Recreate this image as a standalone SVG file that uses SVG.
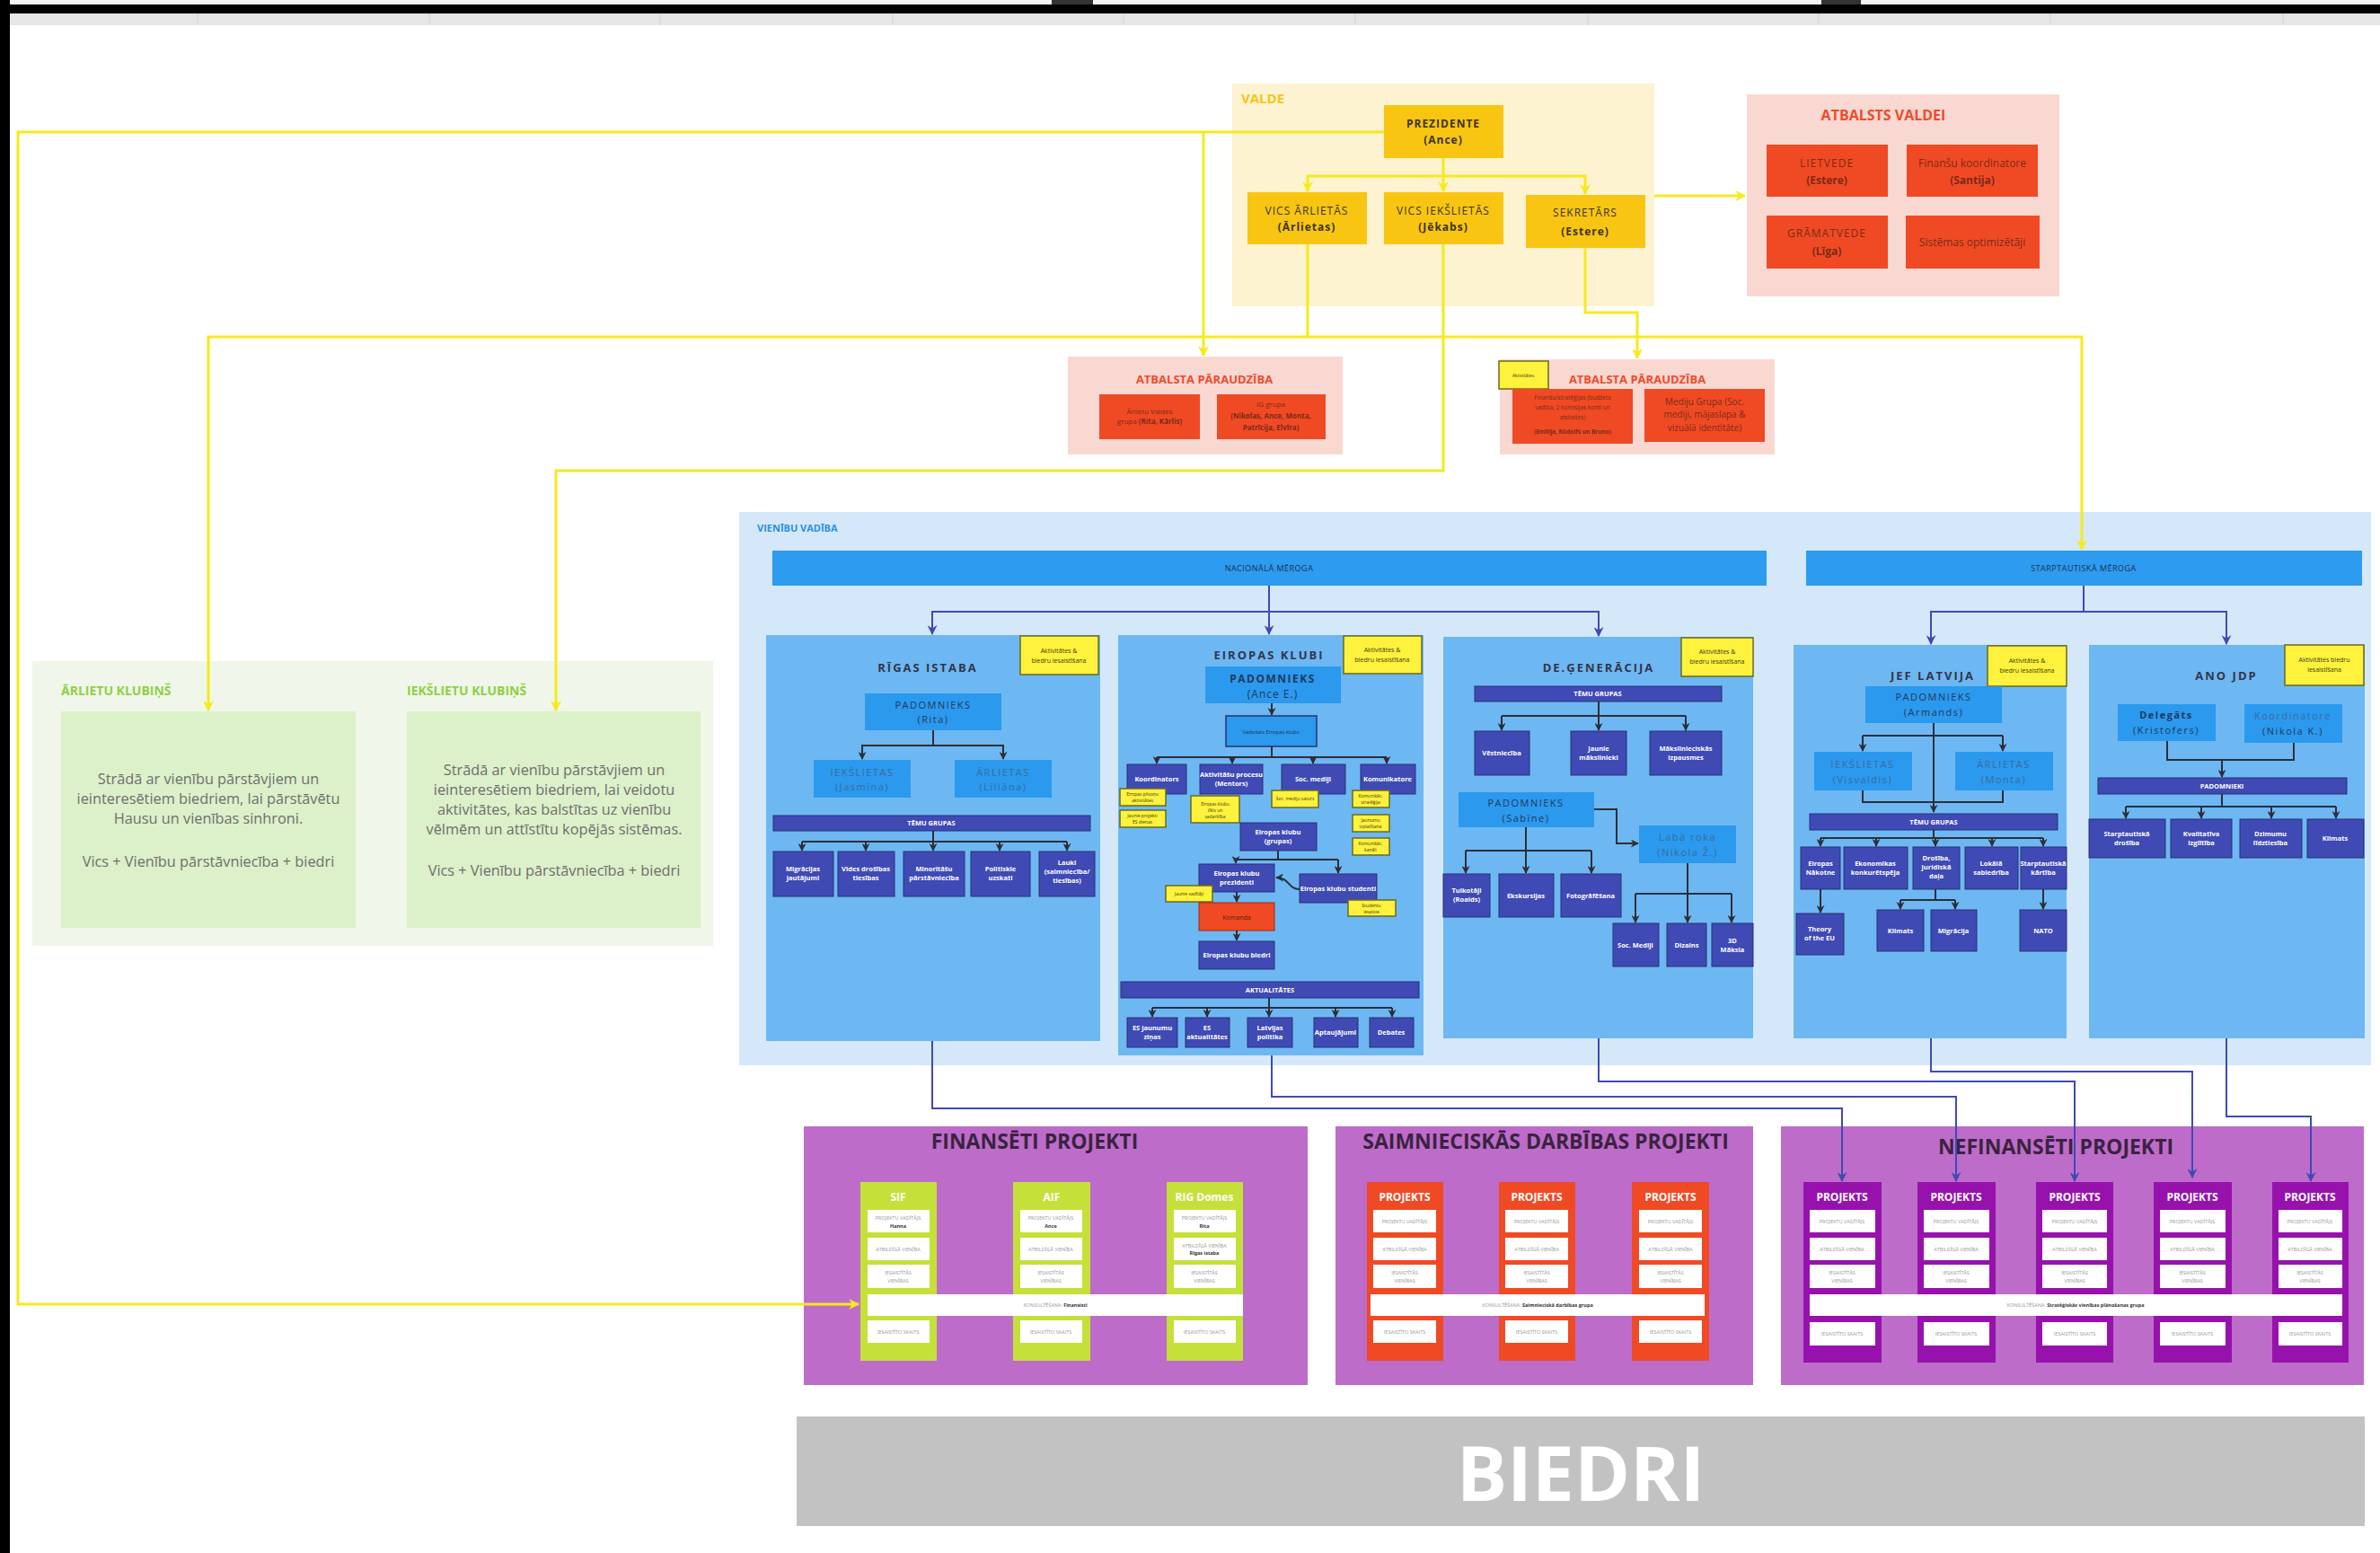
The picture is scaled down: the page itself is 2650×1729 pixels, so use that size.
<svg xmlns="http://www.w3.org/2000/svg" width="2650" height="1729" viewBox="0 0 2650 1729">
<style>
text{font-family:"Open Sans","Noto Sans","Liberation Sans",sans-serif}
.c{text-anchor:middle}
.yl{fill:none;stroke:#f6ea1c;stroke-width:3}
.dl{fill:none;stroke:#2d2d3a;stroke-width:2}
.il{fill:none;stroke:#3f4ab5;stroke-width:2}
.vb{fill:#f8c512}
.vt{font-size:12px;fill:#3b3412;letter-spacing:1px}
.rb{fill:#f04a24}
.rt{font-size:12px;fill:#7c2a17}
.rs{font-size:8px;fill:#7c2a17}
.ub{fill:#6db8f2}
.pb{fill:#2b99ee}
.pt{font-size:11px;fill:#213a5a;letter-spacing:1.5px}
.pl{font-size:11px;fill:#3d6a9a;letter-spacing:1.5px}
.ib{fill:#3f4ab5;stroke:#2a3170;stroke-width:1}
.it{font-size:7.5px;fill:#fff;font-weight:bold}
.st{fill:#fff23c;stroke:#6a6a20;stroke-width:1.5}
.stt{font-size:7px;fill:#3a3a10}
.sts{font-size:5px;fill:#3a3a10}
.ut{font-size:13px;font-weight:bold;fill:#34344a;letter-spacing:2px}
.wc{fill:#fff}
.ct{font-size:5.5px;fill:#9a9a9a}
.cb{font-size:5.5px;fill:#333;font-weight:bold}
.pj{font-size:12px;font-weight:bold;fill:#fff}
.ptitle{font-size:23px;font-weight:bold;fill:#3a2340}
.gt{font-size:14px;font-weight:bold;fill:#8fd043}
.gx{font-size:16.3px;fill:#6e6e6e}
</style>
<defs>
<marker id="ay" viewBox="0 0 10 10" refX="9" refY="5" markerWidth="12" markerHeight="12" markerUnits="userSpaceOnUse" orient="auto"><path d="M0,0 L10,5 L0,10 L3,5 z" fill="#f6ea1c"/></marker>
<marker id="ad" viewBox="0 0 10 10" refX="9" refY="5" markerWidth="9" markerHeight="9" markerUnits="userSpaceOnUse" orient="auto"><path d="M0,0 L10,5 L0,10 L3,5 z" fill="#2d2d3a"/></marker>
<marker id="ai" viewBox="0 0 10 10" refX="9" refY="5" markerWidth="11" markerHeight="11" markerUnits="userSpaceOnUse" orient="auto"><path d="M0,0 L10,5 L0,10 L3,5 z" fill="#3f4ab5"/></marker>
</defs>

<g id="chrome">
<rect x="0" y="0" width="2650" height="6" fill="#f3f3f3"/>
<rect x="1171" y="0" width="46" height="6" fill="#333"/>
<rect x="2028" y="0" width="44" height="6" fill="#333"/>
<rect x="0" y="5" width="2650" height="10" fill="#000"/>
<rect x="0" y="15" width="2650" height="13" fill="#e6e6e6"/>
<g stroke="#d2d2d2" stroke-width="1">
<line x1="220" y1="15" x2="220" y2="28"/><line x1="478" y1="15" x2="478" y2="28"/><line x1="735" y1="15" x2="735" y2="28"/><line x1="994" y1="15" x2="994" y2="28"/><line x1="1251" y1="15" x2="1251" y2="28"/><line x1="1509" y1="15" x2="1509" y2="28"/><line x1="1768" y1="15" x2="1768" y2="28"/><line x1="2025" y1="15" x2="2025" y2="28"/><line x1="2283" y1="15" x2="2283" y2="28"/><line x1="2542" y1="15" x2="2542" y2="28"/>
</g>
<rect x="0" y="0" width="11" height="1729" fill="#000"/>
</g>

<g id="valde">
<rect x="1372" y="93" width="470" height="248" fill="#fdf3d0"/>
<text x="1382" y="115" font-size="15" font-weight="bold" fill="#f5c518">VALDE</text>
</g>
<g id="prezidente">
<rect class="vb" x="1541" y="117" width="133" height="59"/>
<text class="c vt" font-weight="bold" x="1607" y="142">PREZIDENTE</text>
<text class="c vt" font-weight="bold" x="1607" y="160">(Ance)</text>
</g>
<g id="vics-arlietas">
<rect class="vb" x="1389" y="214" width="133" height="58"/>
<text class="c vt" x="1455" y="239">VICS ĀRLIETĀS</text>
<text class="c vt" font-weight="bold" x="1455" y="257">(Ārlietas)</text>
</g>
<g id="vics-ieksl">
<rect class="vb" x="1541" y="214" width="133" height="58"/>
<text class="c vt" x="1607" y="239">VICS IEKŠLIETĀS</text>
<text class="c vt" font-weight="bold" x="1607" y="257">(Jēkabs)</text>
</g>
<g id="sekretars">
<rect class="vb" x="1699" y="217" width="133" height="59"/>
<text class="c vt" x="1765" y="241">SEKRETĀRS</text>
<text class="c vt" font-weight="bold" x="1765" y="262">(Estere)</text>
</g>

<g id="atbalsts-valdei">
<rect x="1945" y="105" width="348" height="225" fill="#fad8d2"/>
<text class="c" x="2097" y="134" font-size="16" font-weight="bold" fill="#ef4b2b">ATBALSTS VALDEI</text>
<rect class="rb" x="1967" y="161" width="135" height="58"/>
<text class="c rt" x="2034" y="186" letter-spacing="1">LIETVEDE</text>
<text class="c rt" x="2034" y="205" font-weight="bold">(Estere)</text>
<rect class="rb" x="2123" y="161" width="146" height="58"/>
<text class="c rt" x="2196" y="186">Finanšu koordinatore</text>
<text class="c rt" x="2196" y="205" font-weight="bold">(Santija)</text>
<rect class="rb" x="1967" y="240" width="135" height="59"/>
<text class="c rt" x="2034" y="264" letter-spacing="1">GRĀMATVEDE</text>
<text class="c rt" x="2034" y="284" font-weight="bold">(Līga)</text>
<rect class="rb" x="2122" y="240" width="149" height="59"/>
<text class="c rt" x="2196" y="274">Sistēmas optimizētāji</text>
</g>

<g id="atbalsta-parraudziba-1">
<rect x="1189" y="397" width="306" height="109" fill="#fad8d2"/>
<text class="c" x="1341" y="427" font-size="13" font-weight="bold" fill="#ef4b2b">ATBALSTA PĀRAUDZĪBA</text>
<rect class="rb" x="1224" y="439" width="112" height="50"/>
<text class="c rs" x="1280" y="461">Ārlietu Valdes</text>
<text class="c rs" x="1280" y="472">grupa <tspan font-weight="bold">(Rita, Kārlis)</tspan></text>
<rect class="rb" x="1355" y="439" width="121" height="50"/>
<text class="c rs" x="1415" y="453">IG grupa</text>
<text class="c rs" x="1415" y="466" font-weight="bold">(Nikolas, Ance, Monta,</text>
<text class="c rs" x="1415" y="479" font-weight="bold">Patrīcija, Elvīra)</text>
</g>
<g id="atbalsta-parraudziba-2">
<rect x="1670" y="400" width="306" height="106" fill="#fad8d2"/>
<rect class="st" x="1669" y="402" width="55" height="31"/>
<text class="c sts" x="1696" y="420">Aktivitātes</text>
<text class="c" x="1823" y="427" font-size="13" font-weight="bold" fill="#ef4b2b">ATBALSTA PĀRAUDZĪBA</text>
<rect class="rb" x="1684" y="433" width="134" height="61"/>
<text class="c" x="1751" y="445" font-size="6.5" fill="#7c2a17">Finanšu/stratēģijas (budžeta</text>
<text class="c" x="1751" y="456" font-size="6.5" fill="#7c2a17">vadība, 2 komisijas konti un</text>
<text class="c" x="1751" y="467" font-size="6.5" fill="#7c2a17">atskaites)</text>
<text class="c" x="1751" y="483" font-size="6.5" fill="#7c2a17" font-weight="bold">(Emīlija, Rūdolfs un Bruno)</text>
<rect class="rb" x="1831" y="433" width="134" height="59"/>
<text class="c" x="1898" y="451" font-size="10" fill="#7c2a17">Mediju Grupa (Soc.</text>
<text class="c" x="1898" y="465" font-size="10" fill="#7c2a17">mediji, mājaslapa &amp;</text>
<text class="c" x="1898" y="480" font-size="10" fill="#7c2a17">vizuālā identitāte)</text>
</g>

<g id="klubini">
<rect x="36" y="736" width="758" height="317" fill="#f0f7ea"/>
</g>
<g id="arlietu-klubins">
<text class="gt" x="68" y="774">ĀRLIETU KLUBIŅŠ</text>
<rect x="68" y="792" width="328" height="241" fill="#dcf0c9"/>
<text class="c gx" x="232" y="873">Strādā ar vienību pārstāvjiem un</text>
<text class="c gx" x="232" y="895">ieinteresētiem biedriem, lai pārstāvētu</text>
<text class="c gx" x="232" y="917">Hausu un vienības sinhroni.</text>
<text class="c gx" x="232" y="965">Vics + Vienību pārstāvniecība + biedri</text>
</g>
<g id="ieksl-klubins">
<text class="gt" x="453" y="774">IEKŠLIETU KLUBIŅŠ</text>
<rect x="453" y="792" width="327" height="241" fill="#dcf0c9"/>
<text class="c gx" x="617" y="863">Strādā ar vienību pārstāvjiem un</text>
<text class="c gx" x="617" y="885">ieinteresētiem biedriem, lai veidotu</text>
<text class="c gx" x="617" y="907">aktivitātes, kas balstītas uz vienību</text>
<text class="c gx" x="617" y="929">vēlmēm un attīstītu kopējās sistēmas.</text>
<text class="c gx" x="617" y="975">Vics + Vienību pārstāvniecība + biedri</text>
</g>

<g id="vienibu-vadiba">
<rect x="823" y="570" width="1817" height="616" fill="#d5e8f9"/>
<text x="843" y="592" font-size="11" font-weight="bold" fill="#2a8fe6">VIENĪBU VADĪBA</text>
</g>
<g id="nacionala">
<rect x="860" y="613" width="1107" height="39" fill="#2d9bf0"/>
<text class="c" x="1413" y="636" font-size="9" fill="#1e3050" letter-spacing="0.5">NACIONĀLĀ MĒROGA</text>
</g>
<g id="starptautiska">
<rect x="2011" y="613" width="619" height="39" fill="#2d9bf0"/>
<text class="c" x="2320" y="636" font-size="9" fill="#1e3050" letter-spacing="0.5">STARPTAUTISKĀ MĒROGA</text>
</g>

<g id="rigas-istaba">
<rect class="ub" x="853" y="707" width="372" height="452"/>
<rect class="st" x="1136" y="708" width="87" height="43"/>
<text class="c stt" x="1179" y="727">Aktivitātes &amp;</text>
<text class="c stt" x="1179" y="738">biedru iesaistīšana</text>
<text class="c ut" x="1033" y="748">RĪGAS ISTABA</text>
<rect class="pb" x="963" y="772" width="152" height="41"/>
<text class="c pt" x="1039" y="789">PADOMNIEKS</text>
<text class="c pt" x="1039" y="805">(Rita)</text>
<path class="dl" d="M1039,813 V830 M960,830 H1117" stroke-width="3"/>
<path class="dl" d="M960,829 V845" marker-end="url(#ad)" stroke-width="3"/>
<path class="dl" d="M1117,829 V845" marker-end="url(#ad)" stroke-width="3"/>
<rect class="pb" x="906" y="846" width="108" height="42"/>
<text class="c pl" x="960" y="864">IEKŠLIETAS</text>
<text class="c pl" x="960" y="880">(Jasmīna)</text>
<rect class="pb" x="1063" y="846" width="108" height="42"/>
<text class="c pl" x="1117" y="864">ĀRLIETAS</text>
<text class="c pl" x="1117" y="880">(Līliāna)</text>
<rect class="ib" x="861" y="908" width="353" height="17"/>
<text class="c it" x="1037" y="919">TĒMU GRUPAS</text>
<path class="dl" d="M1039,925 V937 M893,937 H1188"/>
<path class="dl" d="M893,937 V947" marker-end="url(#ad)"/>
<path class="dl" d="M964,937 V947" marker-end="url(#ad)"/>
<path class="dl" d="M1039,937 V947" marker-end="url(#ad)"/>
<path class="dl" d="M1113,937 V947" marker-end="url(#ad)"/>
<path class="dl" d="M1188,937 V947" marker-end="url(#ad)"/>
<rect class="ib" x="861" y="948" width="67" height="50"/>
<text class="c it" x="894" y="970">Migrācijas</text><text class="c it" x="894" y="980">jautājumi</text>
<rect class="ib" x="933" y="948" width="63" height="50"/>
<text class="c it" x="964" y="970">Vides drošības</text><text class="c it" x="964" y="980">tiesības</text>
<rect class="ib" x="1006" y="948" width="68" height="50"/>
<text class="c it" x="1040" y="970">Minoritāšu</text><text class="c it" x="1040" y="980">pārstāvniecība</text>
<rect class="ib" x="1081" y="948" width="66" height="50"/>
<text class="c it" x="1114" y="970">Politiskie</text><text class="c it" x="1114" y="980">uzskati</text>
<rect class="ib" x="1157" y="948" width="62" height="50"/>
<text class="c it" x="1188" y="963">Lauki</text><text class="c it" x="1188" y="973">(saimniecība/</text><text class="c it" x="1188" y="983">tiesības)</text>
</g>

<g id="eiropas-klubi">
<rect class="ub" x="1245" y="707" width="340" height="468"/>
<rect class="st" x="1496" y="708" width="87" height="42"/>
<text class="c stt" x="1539" y="726">Aktivitātes &amp;</text>
<text class="c stt" x="1539" y="737">biedru iesaistīšana</text>
<text class="c ut" x="1413" y="734">EIROPAS KLUBI</text>
<rect class="pb" x="1342" y="742" width="151" height="41"/>
<text class="c" x="1417" y="760" font-size="12" font-weight="bold" fill="#213a5a" letter-spacing="1.5">PADOMNIEKS</text>
<text class="c" x="1417" y="777" font-size="12" fill="#213a5a" letter-spacing="1">(Ance E.)</text>
<path class="dl" d="M1416,783 V796" marker-end="url(#ad)"/>
<rect x="1365" y="797" width="101" height="34" fill="#2b99ee" stroke="#2a3170" stroke-width="1.5"/>
<text class="c" x="1415" y="817" font-size="6" fill="#1e3050">Vadošais Eiropas klubs</text>
<path class="dl" d="M1416,831 V843 M1288,843 H1544"/>
<path class="dl" d="M1288,843 V850" marker-end="url(#ad)"/>
<path class="dl" d="M1372,843 V850" marker-end="url(#ad)"/>
<path class="dl" d="M1462,843 V850" marker-end="url(#ad)"/>
<path class="dl" d="M1544,843 V850" marker-end="url(#ad)"/>
<rect class="ib" x="1255" y="851" width="66" height="33"/>
<text class="c it" x="1288" y="870">Koordinators</text>
<rect class="ib" x="1336" y="851" width="70" height="33"/>
<text class="c it" x="1371" y="865">Aktivitāšu procesu</text><text class="c it" x="1371" y="875">(Mentors)</text>
<rect class="ib" x="1427" y="851" width="71" height="33"/>
<text class="c it" x="1462" y="870">Soc. mediji</text>
<rect class="ib" x="1515" y="851" width="61" height="33"/>
<text class="c it" x="1545" y="870">Komunikatore</text>
<rect class="st" x="1247" y="878" width="51" height="19"/>
<text class="c sts" x="1272" y="886">Eiropas pilsoņu</text><text class="c sts" x="1272" y="893">aktivitātes</text>
<rect class="st" x="1247" y="902" width="51" height="19"/>
<text class="c sts" x="1272" y="910">Jaunie projekti</text><text class="c sts" x="1272" y="917">ES dienas</text>
<rect class="st" x="1326" y="886" width="54" height="30"/>
<text class="c sts" x="1353" y="897">Eiropas klubu</text><text class="c sts" x="1353" y="904">tīkls un</text><text class="c sts" x="1353" y="911">sadarbība</text>
<rect class="st" x="1416" y="880" width="52" height="19"/>
<text class="c sts" x="1442" y="891">Soc. mediju saturs</text>
<rect class="st" x="1506" y="880" width="41" height="19"/>
<text class="c sts" x="1526" y="888">Komunikāc.</text><text class="c sts" x="1526" y="895">stratēģija</text>
<rect class="st" x="1506" y="907" width="41" height="19"/>
<text class="c sts" x="1526" y="915">Jaunumu</text><text class="c sts" x="1526" y="922">izplatīšana</text>
<rect class="st" x="1506" y="933" width="41" height="19"/>
<text class="c sts" x="1526" y="941">Komunikāc.</text><text class="c sts" x="1526" y="948">kanāli</text>
<rect class="ib" x="1381" y="916" width="85" height="31"/>
<text class="c it" x="1423" y="929">Eiropas klubu</text><text class="c it" x="1423" y="939">(grupas)</text>
<path class="dl" d="M1423,947 V957 M1376,957 H1490"/>
<path class="dl" d="M1376,957 V961" marker-end="url(#ad)"/>
<path class="dl" d="M1490,957 V972" marker-end="url(#ad)"/>
<rect class="ib" x="1335" y="962" width="84" height="31"/>
<text class="c it" x="1377" y="975">Eiropas klubu</text><text class="c it" x="1377" y="985">prezidenti</text>
<rect class="ib" x="1447" y="973" width="86" height="32"/>
<text class="c it" x="1490" y="992">Eiropas klubu studenti</text>
<path class="dl" d="M1447,990 C1434,990 1436,977 1421,977" marker-end="url(#ad)" stroke-width="1.5"/>
<rect class="st" x="1298" y="986" width="52" height="18"/>
<text class="c sts" x="1324" y="997">Jaunie vadītāji</text>
<rect class="st" x="1501" y="1002" width="53" height="18"/>
<text class="c sts" x="1527" y="1010">Studentu</text><text class="c sts" x="1527" y="1017">iesaiste</text>
<path class="dl" d="M1377,993 V1004" marker-end="url(#ad)"/>
<rect x="1335" y="1005" width="84" height="31" fill="#f04a24" stroke="#9a2a14" stroke-width="1"/>
<text class="c" x="1377" y="1024" font-size="7" fill="#5a1a0a">Komanda</text>
<path class="dl" d="M1377,1036 V1047" marker-end="url(#ad)"/>
<rect class="ib" x="1335" y="1048" width="84" height="31"/>
<text class="c it" x="1377" y="1066">Eiropas klubu biedri</text>
<rect class="ib" x="1248" y="1093" width="332" height="18"/>
<text class="c it" x="1414" y="1105">AKTUALITĀTES</text>
<path class="dl" d="M1413,1111 V1122 M1283,1122 H1550"/>
<path class="dl" d="M1283,1122 V1132" marker-end="url(#ad)"/>
<path class="dl" d="M1344,1122 V1132" marker-end="url(#ad)"/>
<path class="dl" d="M1413,1122 V1132" marker-end="url(#ad)"/>
<path class="dl" d="M1487,1122 V1132" marker-end="url(#ad)"/>
<path class="dl" d="M1550,1122 V1132" marker-end="url(#ad)"/>
<rect class="ib" x="1255" y="1133" width="56" height="33"/>
<text class="c it" x="1283" y="1147">ES jaunumu</text><text class="c it" x="1283" y="1157">ziņas</text>
<rect class="ib" x="1320" y="1133" width="49" height="33"/>
<text class="c it" x="1344" y="1147">ES</text><text class="c it" x="1344" y="1157">aktualitātes</text>
<rect class="ib" x="1389" y="1133" width="50" height="33"/>
<text class="c it" x="1414" y="1147">Latvijas</text><text class="c it" x="1414" y="1157">politika</text>
<rect class="ib" x="1463" y="1133" width="49" height="33"/>
<text class="c it" x="1487" y="1152">Aptaujājumi</text>
<rect class="ib" x="1525" y="1133" width="49" height="33"/>
<text class="c it" x="1549" y="1152">Debates</text>
</g>

<g id="de-generacija">
<rect class="ub" x="1607" y="709" width="345" height="447"/>
<rect class="st" x="1872" y="710" width="80" height="43"/>
<text class="c stt" x="1912" y="728">Aktivitātes &amp;</text>
<text class="c stt" x="1912" y="739">biedru iesaistīšana</text>
<text class="c ut" x="1780" y="748">DE.ĢENERĀCIJA</text>
<rect class="ib" x="1642" y="764" width="275" height="17"/>
<text class="c it" x="1779" y="775">TĒMU GRUPAS</text>
<path class="dl" d="M1780,781 V797 M1672,797 H1877"/>
<path class="dl" d="M1672,797 V813" marker-end="url(#ad)"/>
<path class="dl" d="M1780,797 V813" marker-end="url(#ad)"/>
<path class="dl" d="M1877,797 V813" marker-end="url(#ad)"/>
<rect class="ib" x="1642" y="814" width="61" height="49"/>
<text class="c it" x="1672" y="841">Vēstniecība</text>
<rect class="ib" x="1749" y="814" width="62" height="49"/>
<text class="c it" x="1780" y="836">Jaunie</text><text class="c it" x="1780" y="846">mākslinieki</text>
<rect class="ib" x="1837" y="814" width="80" height="49"/>
<text class="c it" x="1877" y="836">Mākslinieciskās</text><text class="c it" x="1877" y="846">izpausmes</text>
<rect class="pb" x="1624" y="882" width="151" height="39"/>
<text class="c pt" x="1699" y="898">PADOMNIEKS</text>
<text class="c pt" x="1699" y="915">(Sabīne)</text>
<path class="dl" d="M1775,901 H1800 V939 H1824" marker-end="url(#ad)"/>
<rect class="pb" x="1825" y="919" width="108" height="42"/>
<text class="c pl" x="1879" y="936">Labā roka</text>
<text class="c pl" x="1879" y="953">(Nikola Ž.)</text>
<path class="dl" d="M1699,921 V947 M1632,947 H1772"/>
<path class="dl" d="M1632,947 V972" marker-end="url(#ad)"/>
<path class="dl" d="M1699,947 V972" marker-end="url(#ad)"/>
<path class="dl" d="M1772,947 V972" marker-end="url(#ad)"/>
<rect class="ib" x="1607" y="973" width="52" height="48"/>
<text class="c it" x="1633" y="994">Tulkotāji</text><text class="c it" x="1633" y="1004">(Roalds)</text>
<rect class="ib" x="1669" y="973" width="61" height="48"/>
<text class="c it" x="1699" y="1000">Ekskursijas</text>
<rect class="ib" x="1738" y="973" width="67" height="48"/>
<text class="c it" x="1771" y="1000">Fotogrāfēšana</text>
<path class="dl" d="M1879,961 V995 M1821,995 H1928"/>
<path class="dl" d="M1821,995 V1027" marker-end="url(#ad)"/>
<path class="dl" d="M1879,995 V1027" marker-end="url(#ad)"/>
<path class="dl" d="M1928,995 V1027" marker-end="url(#ad)"/>
<rect class="ib" x="1796" y="1028" width="51" height="48"/>
<text class="c it" x="1821" y="1055">Soc. Mediji</text>
<rect class="ib" x="1856" y="1028" width="44" height="48"/>
<text class="c it" x="1878" y="1055">Dizains</text>
<rect class="ib" x="1906" y="1028" width="46" height="48"/>
<text class="c it" x="1929" y="1050">3D</text><text class="c it" x="1929" y="1060">Māksla</text>
</g>

<g id="jef-latvija">
<rect class="ub" x="1997" y="718" width="304" height="438"/>
<rect class="st" x="2213" y="719" width="88" height="45"/>
<text class="c stt" x="2257" y="738">Aktivitātes &amp;</text>
<text class="c stt" x="2257" y="749">biedru iesaistīšana</text>
<text class="c ut" x="2152" y="757">JEF LATVIJA</text>
<rect class="pb" x="2077" y="764" width="152" height="41"/>
<text class="c pt" x="2153" y="780">PADOMNIEKS</text>
<text class="c pt" x="2153" y="797">(Armands)</text>
<path class="dl" d="M2153,805 V904" marker-end="url(#ad)"/>
<path class="dl" d="M2074,819 H2230"/>
<path class="dl" d="M2074,819 V836" marker-end="url(#ad)"/>
<path class="dl" d="M2230,819 V836" marker-end="url(#ad)"/>
<rect class="pb" x="2020" y="837" width="109" height="43"/>
<text class="c pl" x="2074" y="855">IEKŠLIETAS</text>
<text class="c pl" x="2074" y="872">(Visvaldis)</text>
<rect class="pb" x="2177" y="837" width="109" height="43"/>
<text class="c pl" x="2231" y="855">ĀRLIETAS</text>
<text class="c pl" x="2231" y="872">(Monta)</text>
<path class="dl" d="M2074,880 V893 H2230 V880"/>
<rect class="ib" x="2015" y="906" width="276" height="18"/>
<text class="c it" x="2153" y="918">TĒMU GRUPAS</text>
<path class="dl" d="M2153,924 V933 M2027,933 H2275"/>
<path class="dl" d="M2027,933 V942" marker-end="url(#ad)"/>
<path class="dl" d="M2089,933 V942" marker-end="url(#ad)"/>
<path class="dl" d="M2155,933 V942" marker-end="url(#ad)"/>
<path class="dl" d="M2218,933 V942" marker-end="url(#ad)"/>
<path class="dl" d="M2275,933 V942" marker-end="url(#ad)"/>
<rect class="ib" x="2005" y="943" width="44" height="47"/>
<text class="c it" x="2027" y="964">Eiropas</text><text class="c it" x="2027" y="974">Nākotne</text>
<rect class="ib" x="2053" y="943" width="71" height="47"/>
<text class="c it" x="2088" y="964">Ekonomikas</text><text class="c it" x="2088" y="974">konkurētspēja</text>
<rect class="ib" x="2130" y="943" width="52" height="47"/>
<text class="c it" x="2156" y="958">Drošība,</text><text class="c it" x="2156" y="968">juridiskā</text><text class="c it" x="2156" y="978">daļa</text>
<rect class="ib" x="2188" y="943" width="59" height="47"/>
<text class="c it" x="2217" y="964">Lokālā</text><text class="c it" x="2217" y="974">sabiedrība</text>
<rect class="ib" x="2250" y="943" width="51" height="47"/>
<text class="c it" x="2275" y="964">Starptautiskā</text><text class="c it" x="2275" y="974">kārtība</text>
<path class="dl" d="M2027,990 V1016" marker-end="url(#ad)"/>
<rect class="ib" x="2000" y="1017" width="53" height="46"/>
<text class="c it" x="2026" y="1037">Theory</text><text class="c it" x="2026" y="1047">of the EU</text>
<path class="dl" d="M2155,990 V1002 M2116,1002 H2177"/>
<path class="dl" d="M2116,1002 V1012" marker-end="url(#ad)"/>
<path class="dl" d="M2177,1002 V1012" marker-end="url(#ad)"/>
<rect class="ib" x="2090" y="1013" width="52" height="46"/>
<text class="c it" x="2116" y="1039">Klimats</text>
<rect class="ib" x="2150" y="1013" width="51" height="46"/>
<text class="c it" x="2175" y="1039">Migrācija</text>
<path class="dl" d="M2275,990 V1012" marker-end="url(#ad)"/>
<rect class="ib" x="2249" y="1013" width="52" height="46"/>
<text class="c it" x="2275" y="1039">NATO</text>
</g>

<g id="ano-jdp">
<rect class="ub" x="2326" y="718" width="307" height="438"/>
<rect class="st" x="2544" y="718" width="88" height="45"/>
<text class="c stt" x="2588" y="737">Aktivitātes biedru</text>
<text class="c stt" x="2588" y="748">iesaistīšana</text>
<text class="c ut" x="2479" y="757">ANO JDP</text>
<rect class="pb" x="2358" y="784" width="109" height="41"/>
<text class="c pt" x="2412" y="800" font-weight="bold">Delegāts</text>
<text class="c pt" x="2412" y="817">(Kristofers)</text>
<rect class="pb" x="2499" y="784" width="109" height="43"/>
<text class="c pl" x="2553" y="801">Koordinatore</text>
<text class="c pt" x="2553" y="818">(Nikola K.)</text>
<path class="dl" d="M2413,825 V846 H2554 V827"/>
<path class="dl" d="M2474,846 V865" marker-end="url(#ad)"/>
<rect class="ib" x="2336" y="866" width="277" height="18"/>
<text class="c it" x="2474" y="878">PADOMNIEKI</text>
<path class="dl" d="M2474,884 V898 M2367,898 H2601"/>
<path class="dl" d="M2367,898 V911" marker-end="url(#ad)"/>
<path class="dl" d="M2451,898 V911" marker-end="url(#ad)"/>
<path class="dl" d="M2529,898 V911" marker-end="url(#ad)"/>
<path class="dl" d="M2601,898 V911" marker-end="url(#ad)"/>
<rect class="ib" x="2326" y="912" width="85" height="43"/>
<text class="c it" x="2368" y="931">Starptautiskā</text><text class="c it" x="2368" y="941">drošība</text>
<rect class="ib" x="2417" y="912" width="68" height="43"/>
<text class="c it" x="2451" y="931">Kvalitatīva</text><text class="c it" x="2451" y="941">izglītība</text>
<rect class="ib" x="2494" y="912" width="69" height="43"/>
<text class="c it" x="2528" y="931">Dzimumu</text><text class="c it" x="2528" y="941">līdztiesība</text>
<rect class="ib" x="2569" y="912" width="63" height="43"/>
<text class="c it" x="2600" y="936">Klimats</text>
</g>

<g id="finanseti-projekti">
<rect x="895" y="1254" width="561" height="288" fill="#bd6cc9"/>
<text class="c ptitle" x="1152" y="1279">FINANSĒTI PROJEKTI</text>
<rect x="958" y="1316" width="85" height="199" fill="#c6e03a"/>
<rect x="1128" y="1316" width="86" height="199" fill="#c6e03a"/>
<rect x="1299" y="1316" width="85" height="199" fill="#c6e03a"/>
<text class="c pj" x="1000" y="1337">SIF</text>
<text class="c pj" x="1171" y="1337">AIF</text>
<text class="c pj" x="1341" y="1337">RIG Domes</text>
<g class="wc">
<rect x="966" y="1347" width="69" height="25"/><rect x="966" y="1378" width="69" height="25"/><rect x="966" y="1408" width="69" height="26"/><rect x="966" y="1470" width="69" height="25"/>
<rect x="1136" y="1347" width="69" height="25"/><rect x="1136" y="1378" width="69" height="25"/><rect x="1136" y="1408" width="69" height="26"/><rect x="1136" y="1470" width="69" height="25"/>
<rect x="1307" y="1347" width="69" height="25"/><rect x="1307" y="1378" width="69" height="25"/><rect x="1307" y="1408" width="69" height="26"/><rect x="1307" y="1470" width="69" height="25"/>
<rect x="966" y="1441" width="418" height="24"/>
</g>
<text class="c ct" x="1000" y="1358">PROJEKTU VADĪTĀJS</text><text class="c cb" x="1000" y="1367">Hanna</text>
<text class="c ct" x="1000" y="1393">ATBILDĪGĀ VIENĪBA</text>
<text class="c ct" x="1000" y="1419">IESAISTĪTĀS</text><text class="c ct" x="1000" y="1428">VIENĪBAS</text>
<text class="c ct" x="1000" y="1485">IESAISTĪTO SKAITS</text>
<text class="c ct" x="1170" y="1358">PROJEKTU VADĪTĀJS</text><text class="c cb" x="1170" y="1367">Ance</text>
<text class="c ct" x="1170" y="1393">ATBILDĪGĀ VIENĪBA</text>
<text class="c ct" x="1170" y="1419">IESAISTĪTĀS</text><text class="c ct" x="1170" y="1428">VIENĪBAS</text>
<text class="c ct" x="1170" y="1485">IESAISTĪTO SKAITS</text>
<text class="c ct" x="1341" y="1358">PROJEKTU VADĪTĀJS</text><text class="c cb" x="1341" y="1367">Rita</text>
<text class="c ct" x="1341" y="1389">ATBILDĪGĀ VIENĪBA</text><text class="c cb" x="1341" y="1397">Rīgas istaba</text>
<text class="c ct" x="1341" y="1419">IESAISTĪTĀS</text><text class="c ct" x="1341" y="1428">VIENĪBAS</text>
<text class="c ct" x="1341" y="1485">IESAISTĪTO SKAITS</text>
<text class="c ct" x="1175" y="1455">KONSULTĒŠANA: <tspan class="cb">Finansisti</tspan></text>
</g>

<g id="saimnieciskas-projekti">
<rect x="1487" y="1254" width="465" height="288" fill="#bd6cc9"/>
<text class="c ptitle" x="1721" y="1279">SAIMNIECISKĀS DARBĪBAS PROJEKTI</text>
<rect x="1522" y="1316" width="85" height="199" fill="#f04a24"/>
<rect x="1669" y="1316" width="85" height="199" fill="#f04a24"/>
<rect x="1817" y="1316" width="86" height="199" fill="#f04a24"/>
<text class="c pj" x="1564" y="1337">PROJEKTS</text>
<text class="c pj" x="1711" y="1337">PROJEKTS</text>
<text class="c pj" x="1860" y="1337">PROJEKTS</text>
<g class="wc">
<rect x="1529" y="1347" width="70" height="25"/><rect x="1529" y="1378" width="70" height="25"/><rect x="1529" y="1408" width="70" height="26"/><rect x="1529" y="1470" width="70" height="25"/>
<rect x="1676" y="1347" width="70" height="25"/><rect x="1676" y="1378" width="70" height="25"/><rect x="1676" y="1408" width="70" height="26"/><rect x="1676" y="1470" width="70" height="25"/>
<rect x="1825" y="1347" width="70" height="25"/><rect x="1825" y="1378" width="70" height="25"/><rect x="1825" y="1408" width="70" height="26"/><rect x="1825" y="1470" width="70" height="25"/>
<rect x="1526" y="1441" width="372" height="24"/>
</g>
<text class="c ct" x="1564" y="1362">PROJEKTU VADĪTĀJS</text><text class="c ct" x="1564" y="1393">ATBILDĪGĀ VIENĪBA</text><text class="c ct" x="1564" y="1419">IESAISTĪTĀS</text><text class="c ct" x="1564" y="1428">VIENĪBAS</text><text class="c ct" x="1564" y="1485">IESAISTĪTO SKAITS</text>
<text class="c ct" x="1711" y="1362">PROJEKTU VADĪTĀJS</text><text class="c ct" x="1711" y="1393">ATBILDĪGĀ VIENĪBA</text><text class="c ct" x="1711" y="1419">IESAISTĪTĀS</text><text class="c ct" x="1711" y="1428">VIENĪBAS</text><text class="c ct" x="1711" y="1485">IESAISTĪTO SKAITS</text>
<text class="c ct" x="1860" y="1362">PROJEKTU VADĪTĀJS</text><text class="c ct" x="1860" y="1393">ATBILDĪGĀ VIENĪBA</text><text class="c ct" x="1860" y="1419">IESAISTĪTĀS</text><text class="c ct" x="1860" y="1428">VIENĪBAS</text><text class="c ct" x="1860" y="1485">IESAISTĪTO SKAITS</text>
<text class="c ct" x="1712" y="1455">KONSULTĒŠANA: <tspan class="cb">Saimnieciskā darbības grupa</tspan></text>
</g>

<g id="nefinanseti-projekti">
<rect x="1983" y="1254" width="649" height="288" fill="#bd6cc9"/>
<text class="c ptitle" x="2289" y="1285">NEFINANSĒTI  PROJEKTI</text>
<rect x="2008" y="1316" width="87" height="201" fill="#9712ad"/>
<rect x="2135" y="1316" width="87" height="201" fill="#9712ad"/>
<rect x="2267" y="1316" width="86" height="201" fill="#9712ad"/>
<rect x="2398" y="1316" width="87" height="201" fill="#9712ad"/>
<rect x="2530" y="1316" width="85" height="201" fill="#9712ad"/>
<text class="c pj" x="2051" y="1337">PROJEKTS</text>
<text class="c pj" x="2178" y="1337">PROJEKTS</text>
<text class="c pj" x="2310" y="1337">PROJEKTS</text>
<text class="c pj" x="2441" y="1337">PROJEKTS</text>
<text class="c pj" x="2572" y="1337">PROJEKTS</text>
<g class="wc">
<rect x="2015" y="1347" width="73" height="25"/><rect x="2015" y="1378" width="73" height="25"/><rect x="2015" y="1408" width="73" height="26"/><rect x="2015" y="1472" width="73" height="26"/>
<rect x="2142" y="1347" width="73" height="25"/><rect x="2142" y="1378" width="73" height="25"/><rect x="2142" y="1408" width="73" height="26"/><rect x="2142" y="1472" width="73" height="26"/>
<rect x="2274" y="1347" width="72" height="25"/><rect x="2274" y="1378" width="72" height="25"/><rect x="2274" y="1408" width="72" height="26"/><rect x="2274" y="1472" width="72" height="26"/>
<rect x="2405" y="1347" width="73" height="25"/><rect x="2405" y="1378" width="73" height="25"/><rect x="2405" y="1408" width="73" height="26"/><rect x="2405" y="1472" width="73" height="26"/>
<rect x="2537" y="1347" width="71" height="25"/><rect x="2537" y="1378" width="71" height="25"/><rect x="2537" y="1408" width="71" height="26"/><rect x="2537" y="1472" width="71" height="26"/>
<rect x="2015" y="1441" width="593" height="24"/>
</g>
<text class="c ct" x="2051" y="1362">PROJEKTU VADĪTĀJS</text><text class="c ct" x="2051" y="1393">ATBILDĪGĀ VIENĪBA</text><text class="c ct" x="2051" y="1419">IESAISTĪTĀS</text><text class="c ct" x="2051" y="1428">VIENĪBAS</text><text class="c ct" x="2051" y="1487">IESAISTĪTO SKAITS</text>
<text class="c ct" x="2178" y="1362">PROJEKTU VADĪTĀJS</text><text class="c ct" x="2178" y="1393">ATBILDĪGĀ VIENĪBA</text><text class="c ct" x="2178" y="1419">IESAISTĪTĀS</text><text class="c ct" x="2178" y="1428">VIENĪBAS</text><text class="c ct" x="2178" y="1487">IESAISTĪTO SKAITS</text>
<text class="c ct" x="2310" y="1362">PROJEKTU VADĪTĀJS</text><text class="c ct" x="2310" y="1393">ATBILDĪGĀ VIENĪBA</text><text class="c ct" x="2310" y="1419">IESAISTĪTĀS</text><text class="c ct" x="2310" y="1428">VIENĪBAS</text><text class="c ct" x="2310" y="1487">IESAISTĪTO SKAITS</text>
<text class="c ct" x="2441" y="1362">PROJEKTU VADĪTĀJS</text><text class="c ct" x="2441" y="1393">ATBILDĪGĀ VIENĪBA</text><text class="c ct" x="2441" y="1419">IESAISTĪTĀS</text><text class="c ct" x="2441" y="1428">VIENĪBAS</text><text class="c ct" x="2441" y="1487">IESAISTĪTO SKAITS</text>
<text class="c ct" x="2572" y="1362">PROJEKTU VADĪTĀJS</text><text class="c ct" x="2572" y="1393">ATBILDĪGĀ VIENĪBA</text><text class="c ct" x="2572" y="1419">IESAISTĪTĀS</text><text class="c ct" x="2572" y="1428">VIENĪBAS</text><text class="c ct" x="2572" y="1487">IESAISTĪTO SKAITS</text>
<text class="c ct" x="2311" y="1455">KONSULTĒŠANA: <tspan class="cb">Stratēģiskās vienības plānošanas grupa</tspan></text>
</g>

<g id="biedri">
<rect x="887" y="1577" width="1746" height="122" fill="#c2c2c2"/>
<text class="c" x="1760" y="1671" font-size="84" font-weight="bold" fill="#fff">BIEDRI</text>
</g>

<g id="connectors">
<path class="yl" d="M1541,147 H20 V1452 H956" marker-end="url(#ay)"/>
<path class="yl" d="M1340,147 V396" marker-end="url(#ay)"/>
<path class="yl" d="M1607,176 V213" marker-end="url(#ay)"/>
<path class="yl" d="M1607,196 H1456 V213" marker-end="url(#ay)"/>
<path class="yl" d="M1607,196 H1765 V216" marker-end="url(#ay)"/>
<path class="yl" d="M1842,218 H1943" marker-end="url(#ay)"/>
<path class="yl" d="M1456,272 V375 H232 V791" marker-end="url(#ay)"/>
<path class="yl" d="M1456,375 H2318 V612" marker-end="url(#ay)"/>
<path class="yl" d="M1607,272 V524 H619 V791" marker-end="url(#ay)"/>
<path class="yl" d="M1765,276 V348 H1823 V399" marker-end="url(#ay)"/>
<path class="il" d="M1413,652 V706" marker-end="url(#ai)"/>
<path class="il" d="M1413,681 H1038 V706" marker-end="url(#ai)"/>
<path class="il" d="M1413,681 H1780 V708" marker-end="url(#ai)"/>
<path class="il" d="M2320,652 V681 H2150 V717" marker-end="url(#ai)"/>
<path class="il" d="M2320,681 H2479 V717" marker-end="url(#ai)"/>
<path class="il" d="M1038,1159 V1234 H2051 V1315" marker-end="url(#ai)"/>
<path class="il" d="M1416,1175 V1221 H2178 V1315" marker-end="url(#ai)"/>
<path class="il" d="M1780,1156 V1204 H2310 V1315" marker-end="url(#ai)"/>
<path class="il" d="M2150,1156 V1193 H2441 V1311" marker-end="url(#ai)"/>
<path class="il" d="M2479,1156 V1243 H2573 V1315" marker-end="url(#ai)"/>
</g>
</svg>
